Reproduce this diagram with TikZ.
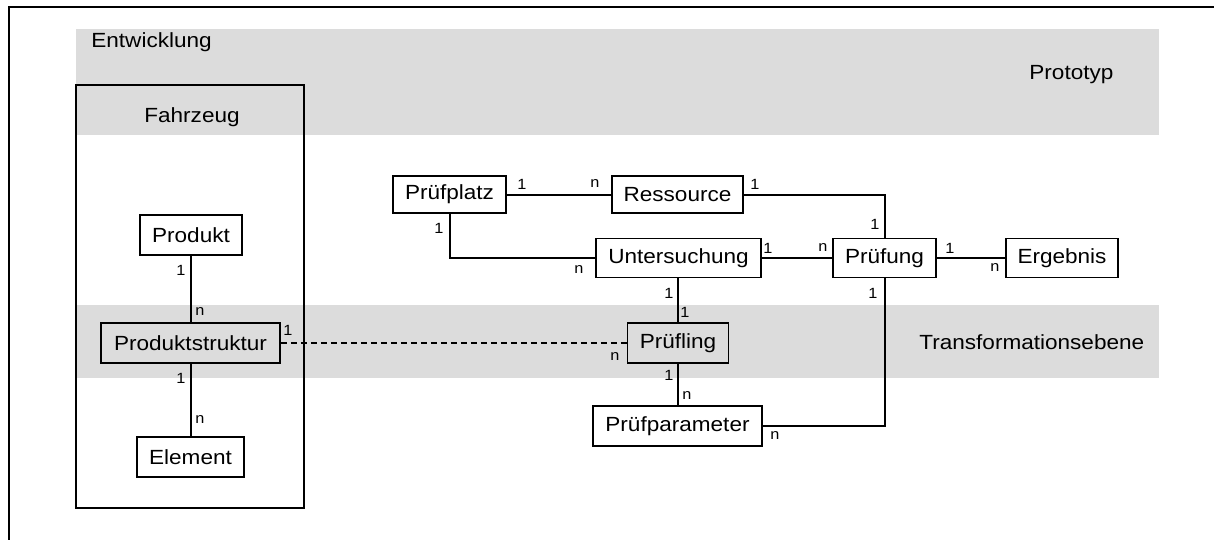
\documentclass[tikz,border=0pt]{standalone}
\usepackage{fontspec}
\setmainfont[FakeStretch=1.1]{Liberation Sans}
\definecolor{bandgray}{RGB}{220,220,220}
\begin{document}
\begin{tikzpicture}[x=0.5pt,y=-0.5pt,
  ebox/.style={draw, line width=0.9pt, inner sep=0pt, minimum height=20pt,
    font=\fontsize{10.25pt}{12pt}\selectfont},
  conn/.style={line width=1pt},
  card/.style={inner sep=0pt, font=\fontsize{7.4pt}{8pt}\selectfont},
  title/.style={inner sep=0pt, font=\fontsize{10.25pt}{12pt}\selectfont}]
\useasboundingbox (0,0) rectangle (1214,540);

% shaded levels
\fill[bandgray] (76,29) rectangle (1159,135);
\fill[bandgray] (77,305) rectangle (1159,378);

% outer frame (left and top edges)
\draw[line width=1.1pt] (9,540) -- (9,7) -- (1214,7);

% vehicle container
\draw[line width=1.1pt] (76,85) rectangle (304,508);

% level titles
\node[title, anchor=base west] (tEnt) at (91,48) {Entwicklung};
\node[title, anchor=base] (tFzg) at (192,122) {Fahrzeug};
\node[title, anchor=base west] (tPro) at (1029,80) {Prototyp};
\node[title, anchor=base west] (tTra) at (919,349) {Transformationsebene};

% entities
\node[ebox, minimum width=51pt] (produkt) at (191,235) {Produkt};
\node[ebox, minimum width=89.5pt] (pstruktur) at (190.5,343) {Produktstruktur};
\node[ebox, minimum width=53.5pt] (element) at (190.5,457) {Element};
\node[ebox, minimum width=56.5pt, minimum height=18.5pt] (pplatz) at (449.5,194.5) {Prüfplatz};
\node[ebox, minimum width=65.5pt, minimum height=18.5pt] (ressource) at (677.5,194.5) {Ressource};
\node[ebox, minimum width=82.5pt, minimum height=19.5pt] (unters) at (678.5,258) {Untersuchung};
\node[ebox, minimum width=51.5pt, minimum height=19.5pt] (pruefung) at (884.5,258) {Prüfung};
\node[ebox, minimum width=56pt, minimum height=19.5pt] (ergebnis) at (1062,258) {Ergebnis};
\node[ebox, minimum width=50.5pt] (pruefling) at (678,343) {Prüfling};
\node[ebox, minimum width=84.5pt] (pparam) at (677.5,426) {Prüfparameter};

% relations
\draw[conn] (produkt.south) -- (pstruktur.north -| produkt.south);
\draw[conn] (pstruktur.south) -- (element.north);
\draw[conn, dashed, dash pattern=on 3pt off 2pt] (pstruktur.east) -- (pruefling.west);
\draw[conn] (pplatz.east) -- (ressource.west);
\draw[conn] (ressource.east) -| (pruefung.north);
\draw[conn] (pplatz.south) |- (unters.west);
\draw[conn] (unters.east) -- (pruefung.west);
\draw[conn] (pruefung.east) -- (ergebnis.west);
\draw[conn] (unters.south -| pruefling.north) -- (pruefling.north);
\draw[conn] (pruefling.south) -- (pparam.north -| pruefling.south);
\draw[conn] (pparam.east) -| (pruefung.south);

% cardinalities
\node[card] (c1) at (181,270) {1};
\node[card] (c2) at (200,312) {n};
\node[card] (c3) at (181,378) {1};
\node[card] (c4) at (200,420) {n};
\node[card] (c5) at (288,330) {1};
\node[card] (c6) at (522,184) {1};
\node[card] (c7) at (595,184) {n};
\node[card] (c8) at (755,184) {1};
\node[card] (c9) at (439,228) {1};
\node[card] (c10) at (579,270) {n};
\node[card] (c11) at (768,248) {1};
\node[card] (c12) at (669,293) {1};
\node[card] (c13) at (875,224) {1};
\node[card] (c14) at (823,248) {n};
\node[card] (c15) at (950,248) {1};
\node[card] (c16) at (995,268) {n};
\node[card] (c17) at (873,293) {1};
\node[card] (c18) at (685,312) {1};
\node[card] (c19) at (615,357) {n};
\node[card] (c20) at (669,375) {1};
\node[card] (c21) at (687,396) {n};
\node[card] (c22) at (775,436) {n};
\end{tikzpicture}
\end{document}
